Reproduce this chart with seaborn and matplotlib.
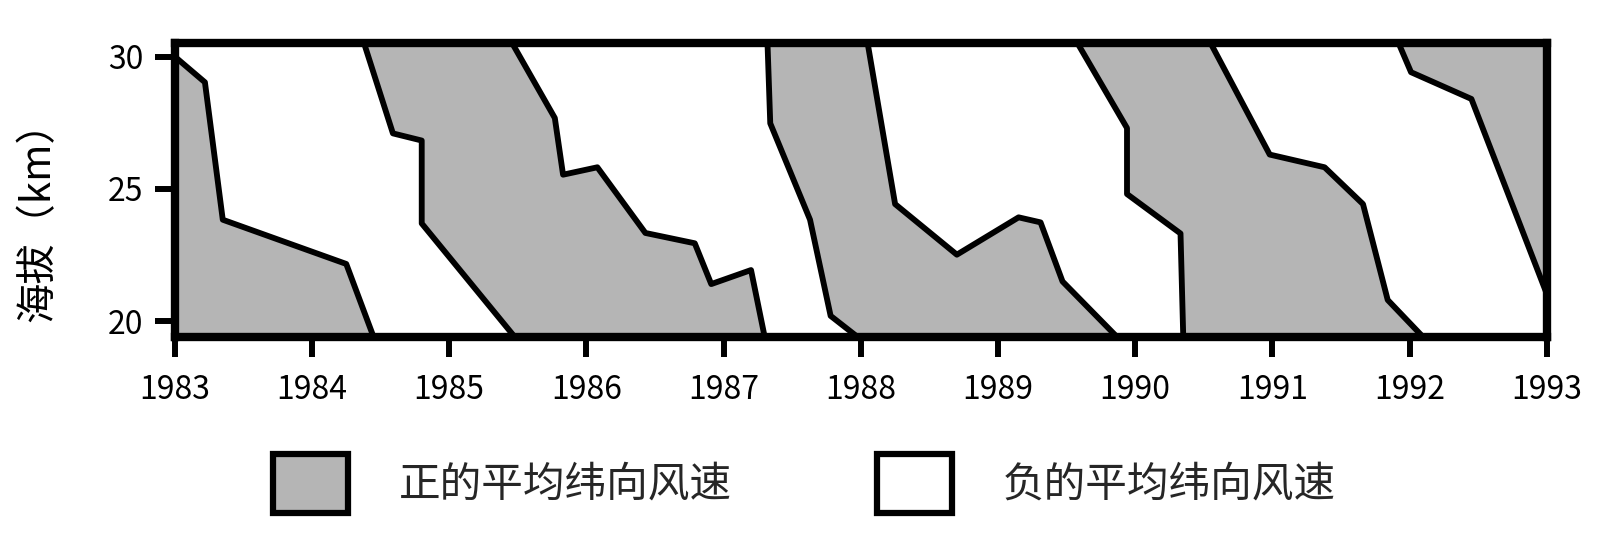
import matplotlib
matplotlib.use("Agg")
import matplotlib.pyplot as plt
from matplotlib.patches import Patch
import seaborn as sns

# ---------------- data ----------------
Y_BOT, Y_TOP = 19.4, 30.5
X_LEFT, X_RIGHT = 1983.0, 1993.0

# boundary lines between positive and negative mean zonal wind (top -> bottom)
a_year = [1983.0, 1983.22, 1983.35, 1984.25, 1984.45]
a_km = [30.0, 29.03, 23.84, 22.17, 19.4]
b_year = [1984.38, 1984.59, 1984.80, 1984.80, 1985.48]
b_km = [30.5, 27.10, 26.83, 23.70, 19.4]
c_year = [1985.46, 1985.77, 1985.83, 1986.08, 1986.43, 1986.79, 1986.91, 1987.20, 1987.30]
c_km = [30.5, 27.68, 25.54, 25.82, 23.34, 22.95, 21.41, 21.94, 19.4]
d_year = [1987.32, 1987.34, 1987.63, 1987.78, 1987.98]
d_km = [30.5, 27.48, 23.84, 20.21, 19.4]
e_year = [1988.05, 1988.25, 1988.70, 1989.15, 1989.31, 1989.47, 1989.87]
e_km = [30.5, 24.43, 22.52, 23.93, 23.74, 21.51, 19.4]
f_year = [1989.58, 1989.94, 1989.94, 1990.33, 1990.35]
f_km = [30.5, 27.30, 24.81, 23.32, 19.4]
g_year = [1990.55, 1990.98, 1991.38, 1991.66, 1991.84, 1992.10]
g_km = [30.5, 26.30, 25.82, 24.43, 20.81, 19.4]
h_year = [1991.92, 1992.01, 1992.45, 1993.0]
h_km = [30.5, 29.41, 28.40, 21.03]

x_ticks = list(range(1983, 1994))
y_ticks = [20, 25, 30]
y_label = "海拔（km）"
legend_labels = ["正的平均纬向风速", "负的平均纬向风速"]

GRAY = "#b5b5b5"

# ---------------- style ----------------
sns.set_theme(style="ticks")
plt.rcParams["font.family"] = ["Noto Sans CJK SC", "DejaVu Sans"]

fig = plt.figure(figsize=(16.12, 5.41), dpi=100)
ax = fig.add_axes([0.1084, 0.3765, 0.8512, 0.5434])

lines = [(a_year, a_km), (b_year, b_km), (c_year, c_km), (d_year, d_km),
         (e_year, e_km), (f_year, f_km), (g_year, g_km), (h_year, h_km)]

# positive-wind (gray) regions between consecutive boundaries
pairs = [
    (([X_LEFT, X_LEFT], [a_km[0], Y_BOT]), lines[0]),
    (lines[1], lines[2]),
    (lines[3], lines[4]),
    (lines[5], lines[6]),
    (lines[7], ([X_RIGHT, X_RIGHT], [Y_TOP, h_km[-1]])),
]
for (lx, ly), (rx, ry) in pairs:
    px = list(lx) + list(rx)[::-1]
    py = list(ly) + list(ry)[::-1]
    ax.fill(px, py, facecolor=GRAY, edgecolor="none", zorder=1)

for xs, ys in lines:
    sns.lineplot(x=xs, y=ys, sort=False, estimator=None, color="black",
                 linewidth=4.2, ax=ax, zorder=3, legend=False)

ax.set_xlim(X_LEFT, X_RIGHT)
ax.set_ylim(Y_BOT, Y_TOP)
ax.set_xticks(x_ticks)
ax.set_xticklabels([str(t) for t in x_ticks])
ax.set_yticks(y_ticks)
ax.set_yticklabels([str(t) for t in y_ticks])
ax.tick_params(axis="both", direction="out", length=14.5, width=4.3,
               color="black", labelsize=23, labelcolor="black")
ax.tick_params(axis="x", pad=12)
ax.tick_params(axis="y", pad=8)

for s in ax.spines.values():
    s.set_visible(True)
    s.set_linewidth(6)
    s.set_color("black")
    s.set_zorder(5)

ax.set_ylabel(y_label, fontsize=29, color="black")
ax.yaxis.set_label_coords(-0.085, 0.426)

handles = [
    Patch(facecolor=GRAY, edgecolor="black", linewidth=4.5, joinstyle="round"),
    Patch(facecolor="white", edgecolor="black", linewidth=4.5, joinstyle="round"),
]
fig.legend(handles, legend_labels, loc="center", bbox_to_anchor=(0.499, 0.107),
           ncol=2, frameon=False, fontsize=30, handlelength=1.8, handleheight=1.8,
           handletextpad=1.2, columnspacing=3.5)

fig.savefig("out.png", dpi=100)
